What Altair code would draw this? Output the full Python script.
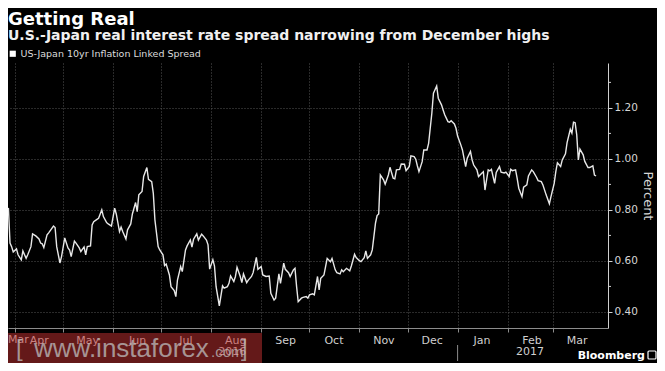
import altair as alt
import pandas as pd

TITLE = "Getting Real"
SUBTITLE = "U.S.-Japan real interest rate spread narrowing from December highs"
SERIES = "US-Japan 10yr Inflation Linked Spread"
START = "2016-04-01"

# days since 2016-04-01 and spread values (percent)
days = [-4, -3, -2, -1, 1, 2, 4, 5, 7, 8, 10, 11, 13, 15, 16, 17, 18, 20, 21, 24,
        25, 26, 28, 29, 31, 33, 34, 35, 37, 38, 40, 41, 43, 44, 45, 47, 48, 49, 51, 52,
        54, 55, 57, 58, 60, 62, 63, 65, 66, 67, 69, 70, 72, 73, 75, 76, 77, 79, 80, 82,
        83, 85, 86, 87, 89, 90, 92, 93, 94, 96, 97, 99, 100, 101, 103, 104, 106, 107, 109, 110,
        111, 113, 114, 116, 117, 119, 120, 121, 123, 124, 125, 127, 129, 130, 132, 133, 134, 136, 137, 138,
        140, 141, 142, 144, 145, 147, 148, 150, 151, 153, 154, 156, 158, 159, 161, 162, 164, 165, 167, 168,
        170, 171, 173, 174, 175, 176, 178, 179, 181, 182, 183, 185, 186, 188, 189, 190, 192, 193, 194, 196,
        197, 199, 200, 202, 203, 204, 206, 208, 209, 211, 212, 214, 215, 217, 218, 219, 221, 222, 223, 224,
        225, 226, 227, 229, 230, 232, 233, 235, 236, 237, 239, 240, 242, 243, 245, 246, 248, 249, 250, 251,
        253, 254, 256, 257, 259, 260, 262, 263, 265, 266, 267, 269, 270, 271, 273, 274, 275, 277, 278, 280,
        281, 283, 284, 285, 287, 288, 290, 291, 292, 294, 295, 296, 298, 299, 301, 302, 304, 305, 307, 308,
        309, 311, 312, 313, 315, 316, 318, 319, 321, 322, 324, 325, 327, 328, 330, 332, 333, 335, 336, 337,
        339, 340, 342, 343, 345, 346, 347, 348, 349, 350, 351, 353, 354, 356, 357, 359, 360, 361]
values = [0.808, 0.670, 0.656, 0.635, 0.647, 0.624, 0.604, 0.639, 0.610, 0.624, 0.656, 0.706, 0.698, 0.686, 0.670, 0.667, 0.652, 0.702, 0.710, 0.737,
          0.731, 0.656, 0.592, 0.617, 0.690, 0.651, 0.643, 0.617, 0.678, 0.670, 0.651, 0.637, 0.655, 0.624, 0.656, 0.659, 0.741, 0.754, 0.763, 0.767,
          0.800, 0.774, 0.750, 0.745, 0.737, 0.807, 0.784, 0.715, 0.733, 0.715, 0.686, 0.722, 0.745, 0.784, 0.829, 0.793, 0.859, 0.872, 0.931, 0.966,
          0.920, 0.911, 0.865, 0.761, 0.656, 0.643, 0.624, 0.582, 0.588, 0.545, 0.499, 0.484, 0.460, 0.525, 0.578, 0.558, 0.643, 0.659, 0.682, 0.654,
          0.685, 0.706, 0.682, 0.705, 0.698, 0.682, 0.663, 0.568, 0.605, 0.580, 0.499, 0.424, 0.502, 0.493, 0.499, 0.512, 0.541, 0.519, 0.539, 0.575,
          0.539, 0.515, 0.549, 0.515, 0.525, 0.539, 0.554, 0.614, 0.567, 0.578, 0.545, 0.539, 0.541, 0.473, 0.447, 0.454, 0.549, 0.512, 0.591, 0.567,
          0.554, 0.539, 0.565, 0.571, 0.499, 0.440, 0.454, 0.457, 0.460, 0.454, 0.467, 0.471, 0.467, 0.539, 0.486, 0.532, 0.545, 0.578, 0.610, 0.597,
          0.610, 0.565, 0.554, 0.549, 0.565, 0.558, 0.571, 0.561, 0.580, 0.626, 0.613, 0.601, 0.597, 0.613, 0.639, 0.610, 0.624, 0.643, 0.695, 0.748,
          0.778, 0.784, 0.937, 0.918, 0.901, 0.937, 0.967, 0.924, 0.922, 0.957, 0.959, 0.980, 0.979, 0.954, 0.970, 1.012, 1.009, 0.999, 0.973, 0.950,
          0.989, 1.035, 1.035, 1.061, 1.179, 1.258, 1.286, 1.238, 1.212, 1.192, 1.173, 1.146, 1.144, 1.150, 1.137, 1.120, 1.090, 1.055, 1.035, 0.970,
          1.003, 1.029, 0.996, 0.976, 0.957, 0.931, 0.944, 0.950, 0.878, 0.957, 0.953, 0.959, 0.904, 0.947, 0.970, 0.948, 0.945, 0.948, 0.931, 0.959,
          0.954, 0.957, 0.924, 0.885, 0.852, 0.889, 0.898, 0.933, 0.957, 0.950, 0.928, 0.915, 0.911, 0.898, 0.859, 0.824, 0.852, 0.904, 0.950, 0.985,
          0.970, 0.996, 1.020, 1.064, 1.116, 1.101, 1.144, 1.142, 1.094, 0.996, 1.038, 1.016, 0.990, 0.966, 0.966, 0.973, 0.937, 0.933]

y_ticks = [0.4, 0.6, 0.8, 1.0, 1.2]
y_minor = [0.5, 0.7, 0.9, 1.1, 1.3]
y_domain = [0.337, 1.376]
x_domain = ["2016-03-27T18:00:00", "2017-04-04T10:00:00"]
month_ticks = [(2016, m) for m in range(4, 13)] + [(2017, m) for m in range(1, 4)]
year_labels = ["2016", "2017"]
year_dates = ["2016-08-14T00:00:00", "2017-02-15T00:00:00"]
year_break = ["2017-01-01T00:00:00"]

W, H = 600, 265
FONT = "DejaVu Sans"

df = pd.DataFrame({
    "date": pd.Timestamp(START) + pd.to_timedelta(days, unit="D"),
    "value": values,
    "series": SERIES,
})

tick_values = [alt.DateTime(year=y, month=m, date=1) for y, m in month_ticks]

line = alt.Chart(df).mark_line(strokeWidth=1.4).encode(
    x=alt.X("date:T", scale=alt.Scale(domain=x_domain),
            axis=alt.Axis(format="%b", values=tick_values,
                          labelAlign="center", labelOffset=24, labelFlush=False,
                          labelOverlap=False, labelFont=FONT, labelFontSize=11,
                          labelColor="#cfcfcf", labelPadding=2,
                          grid=True, gridColor="#555555", gridDash=[1, 2],
                          domainColor="#8c8c8c", tickColor="#8c8c8c", tickSize=4,
                          title=None)),
    y=alt.Y("value:Q", scale=alt.Scale(domain=y_domain, nice=False, zero=False),
            axis=alt.Axis(orient="right", values=y_ticks, format=".2f",
                          labelFont=FONT, labelFontSize=10.5, labelColor="#d6d6d6",
                          labelPadding=2, grid=True, gridColor="#555555", gridDash=[1, 2],
                          domainColor="#d0d0d0", tickColor="#d0d0d0", tickSize=4,
                          title="Percent", titleAngle=90, titleFont=FONT,
                          titleFontSize=13, titleFontWeight="normal",
                          titleColor="#d6d6d6", titlePadding=3)),
    color=alt.Color("series:N", scale=alt.Scale(range=["#e8e8e8"]),
                    legend=alt.Legend(orient="none", legendX=0, legendY=-14,
                                      title=None, symbolType="square", symbolSize=38,
                                      symbolStrokeWidth=0, symbolFillColor="#ffffff",
                                      labelFont=FONT, labelFontSize=9.5, labelLimit=400,
                                      labelColor="#dcdcdc", labelOffset=3, padding=0)),
)

minor = alt.Chart(pd.DataFrame({"v": y_minor})).mark_rule(color="#d0d0d0").encode(
    y=alt.Y("v:Q", scale=alt.Scale(domain=y_domain, nice=False, zero=False)),
    x=alt.value(W), x2=alt.value(W + 3),
)

years = alt.Chart(pd.DataFrame({"d": year_dates, "t": year_labels})).mark_text(
    font=FONT, fontSize=11, color="#cfcfcf", baseline="middle"
).encode(x=alt.X("d:T", scale=alt.Scale(domain=x_domain)), y=alt.value(H + 24), text="t:N")

ybreak = alt.Chart(pd.DataFrame({"d": year_break})).mark_rule(color="#8c8c8c").encode(
    x=alt.X("d:T", scale=alt.Scale(domain=x_domain)), y=alt.value(H + 17), y2=alt.value(H + 33),
)

first_month = alt.Chart(pd.DataFrame({"t": ["Mar"]})).mark_text(
    font=FONT, fontSize=11, color="#cfcfcf", align="left", baseline="top"
).encode(x=alt.value(0), y=alt.value(H + 6), text="t:N")

title = alt.Chart(pd.DataFrame({"t": [TITLE]})).mark_text(
    font=FONT, fontSize=18, fontWeight="bold", color="#ffffff", align="left", baseline="alphabetic"
).encode(x=alt.value(0), y=alt.value(-38), text="t:N")

subtitle = alt.Chart(pd.DataFrame({"t": [SUBTITLE]})).mark_text(
    font=FONT, fontSize=14, fontWeight="bold", color="#f0f0f0", align="left", baseline="alphabetic"
).encode(x=alt.value(0), y=alt.value(-23), text="t:N")

brand = alt.Chart(pd.DataFrame({"t": ["Bloomberg"]})).mark_text(
    font=FONT, fontSize=11, fontWeight="bold", color="#ffffff", align="right", baseline="alphabetic"
).encode(x=alt.value(W + 37), y=alt.value(H + 31), text="t:N")

brand_icon = alt.Chart(pd.DataFrame({"a": [0]})).mark_rect(
    fill="#000000", stroke="#ffffff", strokeWidth=1.2, cornerRadius=1
).encode(x=alt.value(W + 40), x2=alt.value(W + 48), y=alt.value(H + 23), y2=alt.value(H + 31))

wm_box = alt.Chart(pd.DataFrame({"a": [0]})).mark_rect(fill="#c83232", opacity=0.5).encode(
    x=alt.value(0), x2=alt.value(254), y=alt.value(H + 5), y2=alt.value(H + 40)
)

wm_main = alt.Chart(pd.DataFrame({"t": ["www.instaforex"]})).mark_text(
    font="Liberation Sans", fontSize=26, color="#bdbdbd", opacity=0.75, align="left", baseline="alphabetic"
).encode(x=alt.value(26), y=alt.value(H + 29), text="t:N")

wm_com = alt.Chart(pd.DataFrame({"t": [".com"]})).mark_text(
    font="Liberation Sans", fontSize=15, color="#bdbdbd", opacity=0.75, align="left", baseline="alphabetic"
).encode(x=alt.value(203), y=alt.value(H + 29), text="t:N")

wm_left = alt.Chart(pd.DataFrame({"t": ["["]})).mark_text(
    font="Liberation Sans", fontSize=24, fontWeight=300, color="#bdbdbd", opacity=0.75, align="left", baseline="alphabetic"
).encode(x=alt.value(8), y=alt.value(H + 28), text="t:N")

wm_right = alt.Chart(pd.DataFrame({"t": ["]"]})).mark_text(
    font="Liberation Sans", fontSize=24, fontWeight=300, color="#bdbdbd", opacity=0.75, align="left", baseline="alphabetic"
).encode(x=alt.value(233), y=alt.value(H + 28), text="t:N")

chart = alt.layer(
    line, minor, ybreak, years, first_month, title, subtitle, brand, brand_icon,
    wm_box, wm_left, wm_main, wm_com, wm_right,
).properties(
    width=W, height=H,
    autosize=alt.AutoSizeParams(type="none"),
    padding={"left": 0, "top": 55, "right": 49, "bottom": 35},
).configure(background="#000000").configure_view(stroke=None)

chart.save("out.html", embed_options={"renderer": "svg", "actions": False})
